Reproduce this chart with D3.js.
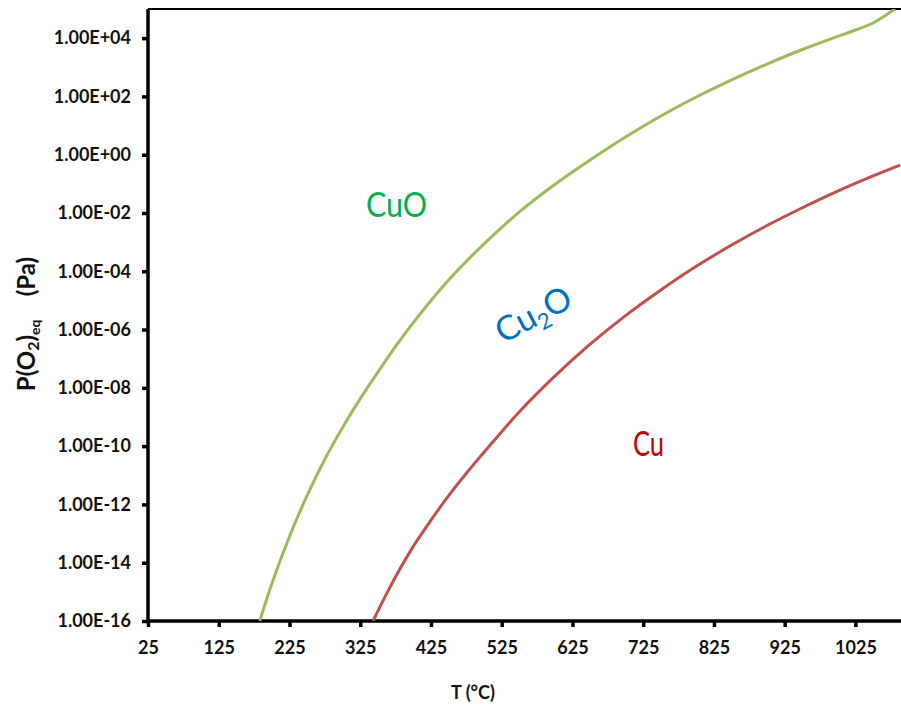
<html>
  <head>
    <title>Cu-O equilibrium</title>
    <script type="text/javascript" src="https://cdn.jsdelivr.net/npm/d3@7"></script>
    <style type="text/css">

body {
  margin: 0;
  background: #fff;
}

text {
  font-family: Lato, "Open Sans", sans-serif;
}

.axis text {
  font-weight: bold;
  font-size: 18px;
  fill: #111;
}

    </style>
  </head>
  <body>
    <script type="text/javascript">

// CuO / Cu2O boundary, T in degC, log10 P(O2) in Pa
var cuoT = [183, 200, 225, 250, 275, 300, 325, 350, 375, 400, 450, 500, 550, 600,
            650, 700, 750, 800, 850, 900, 950, 1000, 1025, 1050, 1065, 1081],
    cuoLogP = [-16.0, -14.72, -13.1, -11.69, -10.45, -9.36, -8.37, -7.46, -6.58, -5.76,
               -4.3, -3.06, -1.96, -1.02, -0.18, 0.61, 1.33, 1.98, 2.57, 3.11, 3.61,
               4.06, 4.28, 4.52, 4.74, 5.0];

// Cu2O / Cu boundary
var cu2oT = [343, 360, 375, 400, 425, 450, 475, 500, 550, 600, 650, 700, 750, 800,
             850, 900, 950, 1000, 1050, 1088],
    cu2oLogP = [-16.0, -15.17, -14.48, -13.44, -12.54, -11.7, -10.93, -10.21, -8.82,
                -7.6, -6.5, -5.52, -4.64, -3.83, -3.1, -2.43, -1.82, -1.25, -0.73, -0.36];

var xTicks = [25, 125, 225, 325, 425, 525, 625, 725, 825, 925, 1025],
    yTicks = [1e-16, 1e-14, 1e-12, 1e-10, 1e-8, 1e-6, 1e-4, 1e-2, 1e0, 1e2, 1e4];

var w = 901,
    h = 709,
    pl = 148,
    pt = 9,
    pr = 900,
    pb = 621;

var x = d3.scaleLinear().domain([25, 1088]).range([pl, pr]),
    y = d3.scaleLog().domain([1e-16, 1e5]).range([pb, pt]);

var vis = d3.select("body")
  .append("svg")
    .attr("width", w)
    .attr("height", h);

vis.append("defs").append("clipPath")
    .attr("id", "plot")
  .append("rect")
    .attr("x", pl)
    .attr("y", pt)
    .attr("width", w - pl)
    .attr("height", pb - pt);

// top border
vis.append("line")
    .attr("x1", pl)
    .attr("x2", w)
    .attr("y1", pt)
    .attr("y2", pt)
    .attr("stroke", "#000")
    .attr("stroke-width", 2);

function sci(d) {
  var e = Math.round(Math.log10(d));
  return "1.00E" + (e < 0 ? "-" : "+") + (Math.abs(e) < 10 ? "0" : "") + Math.abs(e);
}

var yAxis = vis.append("g")
    .attr("class", "axis")
    .attr("transform", "translate(" + pl + ",0)")
    .call(d3.axisLeft(y).tickValues(yTicks).tickFormat(sci).tickSize(6).tickPadding(11));

var xAxis = vis.append("g")
    .attr("class", "axis")
    .attr("transform", "translate(0," + pb + ")")
    .call(d3.axisBottom(x).tickValues(xTicks).tickFormat(d3.format("d")).tickSize(6).tickPadding(14));

vis.selectAll(".axis .domain").attr("stroke", "#000").attr("stroke-width", 3.5);
vis.selectAll(".axis .tick line").attr("stroke", "#000").attr("stroke-width", 3.5);

// stretch the domain lines to the plot edges
xAxis.select(".domain").attr("d", "M" + pl + ",0H" + w);
yAxis.select(".domain").attr("d", "M0," + pt + "V" + pb);

var line = d3.line()
    .x(function(d) { return x(d[0]); })
    .y(function(d) { return y(Math.pow(10, d[1])); })
    .curve(d3.curveCatmullRom.alpha(0.5));

var curves = vis.append("g").attr("clip-path", "url(#plot)");

curves.append("path")
    .datum(d3.zip(cuoT, cuoLogP))
    .attr("fill", "none")
    .attr("stroke", "#9bbb59")
    .attr("stroke-width", 3)
    .attr("d", line);

curves.append("path")
    .datum(d3.zip(cu2oT, cu2oLogP))
    .attr("fill", "none")
    .attr("stroke", "#c0504d")
    .attr("stroke-width", 3)
    .attr("d", line);

// phase labels
vis.append("text")
    .attr("x", 366)
    .attr("y", 217)
    .attr("font-size", 34)
    .attr("textLength", 61)
    .attr("lengthAdjust", "spacingAndGlyphs")
    .attr("fill", "#00b050")
    .text("CuO");

var cu2o = vis.append("text")
    .attr("transform", "translate(503,344) rotate(-28)")
    .attr("font-size", 34)
    .attr("fill", "#0070c0");
cu2o.append("tspan").text("Cu");
cu2o.append("tspan").attr("font-size", 22).attr("dy", 7).text("2");
cu2o.append("tspan").attr("dy", -7).text("O");

vis.append("text")
    .attr("x", 633)
    .attr("y", 456)
    .attr("font-size", 34)
    .attr("textLength", 31)
    .attr("lengthAdjust", "spacingAndGlyphs")
    .attr("fill", "#c00000")
    .text("Cu");

// axis titles
vis.append("text")
    .attr("x", 473)
    .attr("y", 699)
    .attr("text-anchor", "middle")
    .attr("font-size", 18)
    .attr("font-weight", "bold")
    .attr("fill", "#111")
    .text("T (\u00b0C)");

var ylab = vis.append("text")
    .attr("transform", "translate(35,324) rotate(-90)")
    .attr("text-anchor", "middle")
    .attr("font-size", 24)
    .attr("font-weight", "bold")
    .attr("fill", "#111");
ylab.append("tspan").text("P(O");
ylab.append("tspan").attr("font-size", 16).attr("dy", 4).text("2");
ylab.append("tspan").attr("dy", -4).text(")");
ylab.append("tspan").attr("font-size", 14).attr("dy", 5).text("eq");
ylab.append("tspan").attr("dy", -5).text("\u00a0\u00a0\u00a0\u00a0(Pa)");

    </script>
  </body>
</html>
